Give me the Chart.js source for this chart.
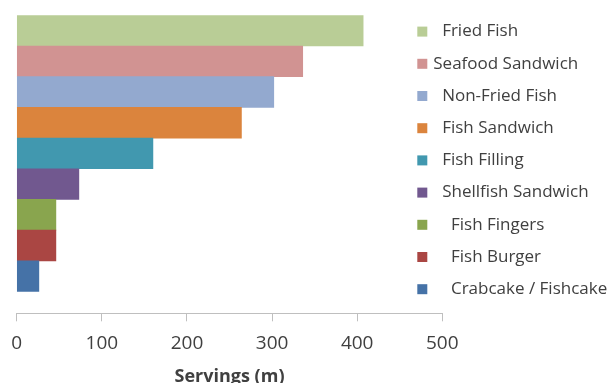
<!DOCTYPE html>
<html><head><meta charset="utf-8">
<script src="https://cdn.jsdelivr.net/npm/chart.js@4"></script>
<style>html,body{margin:0;padding:0;overflow:hidden;background:#fff}
#wrap{position:relative;width:610px;height:388px}</style>
</head><body><div id="wrap"><canvas id="c"></canvas></div>
<script>
const categories = ['  Fried Fish', 'Seafood Sandwich', '  Non-Fried Fish', '  Fish Sandwich', '  Fish Filling', '  Shellfish Sandwich', '    Fish Fingers', '    Fish Burger', '    Crabcake / Fishcake'];
const servings = [407, 336, 302, 264, 160, 73, 46, 46, 26];
const colors = ['#B9CD96', '#D19392', '#93A9CF', '#DB843D', '#4198AF', '#71588F', '#89A54E', '#AA4643', '#4572A7'];
const xTicks = [0, 100, 200, 300, 400, 500];
const axisTitle = 'Servings (m)';

Chart.defaults.font.family = '"Open Sans", "DejaVu Sans", sans-serif';

const sideLegend = {
  id: 'sideLegend',
  afterDraw(chart, args, opts) {
    const ctx = chart.ctx;
    ctx.save();
    ctx.font = '17px "Open Sans"';
    ctx.textBaseline = 'middle';
    ctx.textAlign = 'left';
    chart.data.labels.forEach((lab, i) => {
      const y = opts.top + i * opts.step;
      ctx.fillStyle = chart.data.datasets[0].backgroundColor[i];
      ctx.fillRect(opts.x, y - 5, 10, 10);
      ctx.fillStyle = '#404040';
      ctx.fillText(lab, opts.x + 16, y);
    });
    ctx.restore();
  }
};

new Chart(document.getElementById('c'), {
  type: 'bar',
  data: {
    labels: categories,
    datasets: [{
      data: servings.map((v, i) => ({ x: v, y: i })),
      backgroundColor: colors,
      borderWidth: 0,
      barPercentage: 1,
      categoryPercentage: 1
    }]
  },
  options: {
    indexAxis: 'y',
    responsive: true,
    maintainAspectRatio: false,
    animation: false,
    layout: { padding: { left: 16.5, right: 167.7, top: 15.3, bottom: 0 } },
    plugins: {
      legend: { display: false },
      tooltip: { enabled: false },
      sideLegend: { x: 417.3, top: 31.6, step: 32.2 }
    },
    scales: {
      y: {
        type: 'linear',
        reverse: true,
        offset: false,
        min: -0.5,
        max: 9.21,
        display: false,
        grid: { offset: false },
        afterBuildTicks: s => { s.ticks = categories.map((c, i) => ({ value: i })); }
      },
      x: {
        type: 'linear',
        min: 0,
        max: 500,
        afterBuildTicks: s => { s.ticks = xTicks.map(v => ({ value: v })); },
        afterFit: s => { s.height = 74.7; },
        grid: { drawOnChartArea: false, drawTicks: true, tickLength: 8, tickColor: '#BFBFBF', lineWidth: 1 },
        border: { display: true, color: '#BFBFBF', width: 1 },
        ticks: { padding: 11.3, color: '#404040', font: { size: 19 }, maxRotation: 0 },
        title: { display: true, text: axisTitle, color: '#404040', font: { size: 18, weight: 'bold' }, padding: { top: 8.8, bottom: 0 } }
      }
    }
  },
  plugins: [sideLegend]
});
</script></body></html>
